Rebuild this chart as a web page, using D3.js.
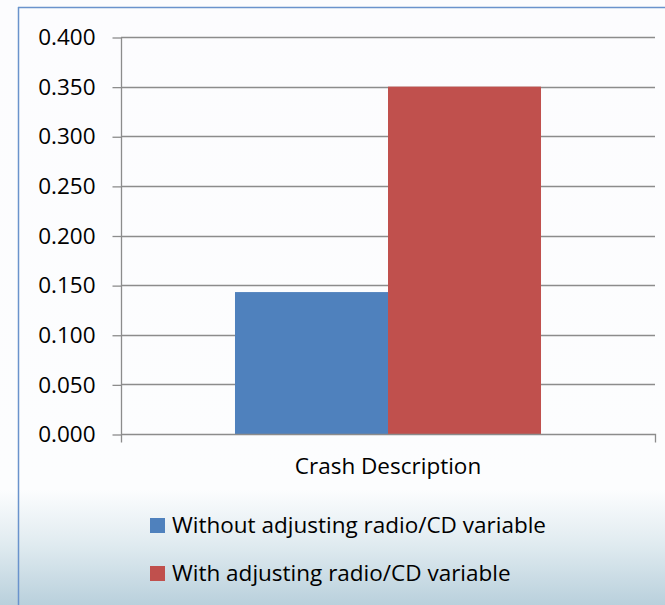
<!DOCTYPE html>
<html><head><meta charset="utf-8">
<script src="https://cdn.jsdelivr.net/npm/d3@7"></script>
<style>html,body{margin:0;padding:0;background:#fff;}svg{display:block;}</style>
</head><body>
<svg id="chart" width="665" height="605"></svg>
<script>
const categories = ["Crash Description"];
const seriesNames = ["Without adjusting radio/CD variable", "With adjusting radio/CD variable"];
const seriesValues = [[0.143], [0.350]];
const seriesColors = ["#4f81bd", "#c0504d"];
const yTicks = [0, 0.05, 0.1, 0.15, 0.2, 0.25, 0.3, 0.35, 0.4];

(function(){
const svg = d3.select("#chart");
const W = 665, H = 605;
const defs = svg.append("defs");
const grad = defs.append("linearGradient").attr("id","bg").attr("x1",0).attr("y1",0).attr("x2",0).attr("y2",1);
grad.append("stop").attr("offset","0").attr("stop-color","#fcfcfe");
grad.append("stop").attr("offset","0.81").attr("stop-color","#fcfdfe");
grad.append("stop").attr("offset","0.9").attr("stop-color","#e0ebf0");
grad.append("stop").attr("offset","1").attr("stop-color","#b9d0dc");
svg.append("rect").attr("x",0).attr("y",0).attr("width",W).attr("height",H).attr("fill","url(#bg)");
svg.append("line").attr("x1",18).attr("x2",W).attr("y1",7.5).attr("y2",7.5).attr("stroke","#6a93cc").attr("stroke-width",1.5);
svg.append("line").attr("x1",18.5).attr("x2",18.5).attr("y1",7).attr("y2",H).attr("stroke","#6a93cc").attr("stroke-width",1.5);

const pLeft = 121, pRight = 655, pTop = 37, pBottom = 434;
const y = d3.scaleLinear().domain([0, 0.4]).range([pBottom, pTop]);
const x0 = d3.scaleBand().domain(categories).range([pLeft, pRight]).paddingInner(0).paddingOuter(0.3725);
const x1 = d3.scaleBand().domain(d3.range(seriesNames.length)).range([0, x0.bandwidth()]);

const font = "'Open Sans', sans-serif";
const fs = 22.5;
svg.append("g").selectAll("line").data(yTicks.filter(d=>d>0)).join("line")
  .attr("x1", pLeft).attr("x2", pRight).attr("y1", d=>Math.round(y(d))+0.5).attr("y2", d=>Math.round(y(d))+0.5)
  .attr("stroke","#8c8c8c").attr("stroke-width",1.3);

const g = svg.append("g");
categories.forEach((c, ci) => {
  seriesNames.forEach((s, si) => {
    g.append("rect").attr("x", x0(c) + x1(si)).attr("width", x1.bandwidth())
      .attr("y", y(seriesValues[si][ci])).attr("height", pBottom - y(seriesValues[si][ci]))
      .attr("fill", seriesColors[si]);
  });
});

const yAxis = d3.axisLeft(y).tickValues(yTicks).tickFormat(d3.format(".3f")).tickSize(9).tickPadding(17);
const ya = svg.append("g").attr("transform", `translate(${pLeft+0.5},0.5)`).call(yAxis);
ya.select(".domain").attr("stroke","#8c8c8c").attr("stroke-width",1.3).attr("d", `M0,${pTop}V${pBottom+8}`);
ya.selectAll(".tick line").attr("stroke","#8c8c8c").attr("stroke-width",1.3);
ya.selectAll(".tick text").attr("font-family",font).attr("font-size",fs).attr("fill","#000");

const xAxis = d3.axisBottom(x0).tickSize(0).tickPadding(24);
const xa = svg.append("g").attr("transform", `translate(0,${pBottom+0.5})`).call(xAxis);
xa.select(".domain").attr("stroke","#8c8c8c").attr("stroke-width",1.3).attr("d", `M${pLeft},0H${pRight+0.5}V8`);
xa.selectAll(".tick text").attr("font-family",font).attr("font-size",fs).attr("fill","#000");

const leg = svg.append("g");
seriesNames.forEach((s, i) => {
  const ly = 518 + i*48;
  leg.append("rect").attr("x",150).attr("y",ly).attr("width",15).attr("height",15).attr("fill",seriesColors[i]);
  leg.append("text").attr("x",172).attr("y",ly+15).attr("font-family",font).attr("font-size",fs).attr("fill","#000").text(s);
});
})();
</script>
</body></html>
